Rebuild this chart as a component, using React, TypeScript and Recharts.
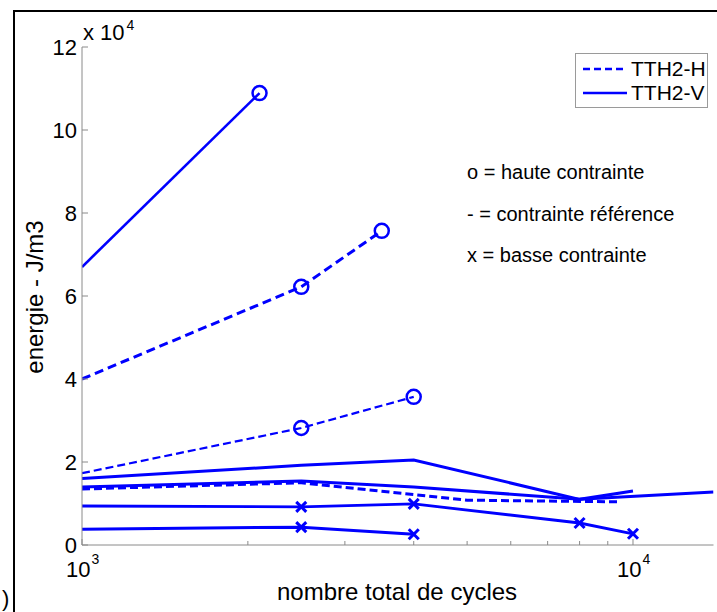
import { Legend, Line, LineChart, XAxis, YAxis } from 'recharts'

// Energy (J/m3) versus total number of cycles, log x axis.
const X_MIN = 1000
const X_MAX = 14000
const X_TICKS = [1000, 2000, 3000, 4000, 5000, 6000, 7000, 8000, 9000, 10000]
const X_MAJOR = [1000, 10000]
const Y_TICKS = [0, 20000, 40000, 60000, 80000, 100000, 120000]

// TTH2-V, solid lines
const V_HAUTE_X = [1000, 2100]
const V_HAUTE_Y = [67000, 108900]
const V_REF1_X = [1000, 2500, 4000, 8000, 10000]
const V_REF1_Y = [16000, 19200, 20500, 11000, 13000]
const V_REF2_X = [1000, 2500, 4000, 8000, 14000]
const V_REF2_Y = [14000, 15400, 14000, 11000, 12800]
const V_BASSE1_X = [1000, 2500, 4000, 8000, 10000]
const V_BASSE1_Y = [9400, 9200, 9900, 5300, 2700]
const V_BASSE2_X = [1000, 2500, 4000]
const V_BASSE2_Y = [3800, 4300, 2600]

// TTH2-H, dashed lines
const H_HAUTE1_X = [1000, 2500, 3500]
const H_HAUTE1_Y = [40000, 62200, 75700]
const H_HAUTE2_X = [1000, 2500, 4000]
const H_HAUTE2_Y = [17300, 28200, 35700]
const H_REF_X = [1000, 2500, 5000, 9500]
const H_REF_Y = [13500, 15000, 10800, 10400]

const LEGEND_ITEMS = [
  { label: 'TTH2-H', dash: '7 4' },
  { label: 'TTH2-V', dash: undefined },
]
const NOTES = ['o = haute contrainte', '- = contrainte référence', 'x = basse contrainte']

const BLUE = '#0000ff'
const AXIS_GRAY = '#8a8a8a'
const FONT = '"Liberation Sans", Arial, sans-serif'

const pts = (xs: number[], ys: number[]) => xs.map((x, i) => ({ x, y: ys[i] }))

type Marker = 'o' | 'x' | 'none'

// Points sitting on the left edge are line continuations, not measurements.
function markerFor(kind: Marker) {
  return (props: any) => {
    const { cx, cy, payload, index } = props
    const key = `m-${index}-${cx}`
    if (kind === 'none' || payload.x <= X_MIN) return <g key={key} />
    if (kind === 'o') {
      return <circle key={key} cx={cx} cy={cy} r={7} fill="none" stroke={BLUE} strokeWidth={2.5} />
    }
    return (
      <g key={key} stroke={BLUE} strokeWidth={3}>
        <line x1={cx - 5} y1={cy - 5} x2={cx + 5} y2={cy + 5} />
        <line x1={cx - 5} y1={cy + 5} x2={cx + 5} y2={cy - 5} />
      </g>
    )
  }
}

function XTick(props: any) {
  const { x, y, payload } = props
  const major = X_MAJOR.includes(payload.value)
  const exp = Math.round(Math.log10(payload.value))
  return (
    <g>
      <line x1={x} y1={y} x2={x} y2={y - (major ? 6 : 4)} stroke={AXIS_GRAY} />
      {major && (
        <text x={x - 16} y={y + 32} fontSize={22} fontFamily={FONT} fill="#000">
          10
          <tspan dx={1} dy={-13} fontSize={14}>
            {exp}
          </tspan>
        </text>
      )}
    </g>
  )
}

function YTick(props: any) {
  const { x, y, payload } = props
  return (
    <g>
      <line x1={x} y1={y} x2={x + 6} y2={y} stroke={AXIS_GRAY} />
      <text x={x - 5} y={y} dy="0.355em" textAnchor="end" fontSize={22} fontFamily={FONT} fill="#000">
        {payload.value / 10000}
      </text>
    </g>
  )
}

function LegendBox() {
  return (
    <div
      style={{
        border: '1px solid #9a9a9a',
        background: '#fff',
        width: 131,
        height: 53,
        fontFamily: FONT,
        fontSize: 21,
        color: '#000',
        boxSizing: 'content-box',
      }}
    >
      {LEGEND_ITEMS.map((item, i) => (
        <div key={item.label} style={{ position: 'relative', height: 24, marginTop: i === 0 ? 3 : 0 }}>
          <svg width={50} height={24} style={{ position: 'absolute', left: 6, top: 0 }}>
            <line x1={1} y1={12} x2={45} y2={12} stroke={BLUE} strokeWidth={2.5} strokeDasharray={item.dash} />
          </svg>
          <span style={{ position: 'absolute', left: 55, top: 0, lineHeight: '24px' }}>{item.label}</span>
        </div>
      ))}
    </div>
  )
}

export default function App() {
  return (
    <div style={{ position: 'absolute', left: 0, top: 0, width: 717, height: 612, background: '#fff' }}>
      <LineChart width={717} height={612} margin={{ top: 47, right: 3.5, bottom: 0, left: 0 }}>
        <XAxis
          dataKey="x"
          type="number"
          scale="log"
          domain={[X_MIN, X_MAX]}
          ticks={X_TICKS}
          allowDataOverflow
          height={67}
          stroke={AXIS_GRAY}
          tickSize={0}
          tickMargin={0}
          tickLine={false}
          tick={<XTick />}
          interval={0}
        />
        <YAxis
          type="number"
          domain={[0, 120000]}
          ticks={Y_TICKS}
          width={82}
          stroke={AXIS_GRAY}
          tickSize={0}
          tickMargin={0}
          tickLine={false}
          tick={<YTick />}
          interval={0}
        />
        <Legend
          layout="horizontal"
          verticalAlign="middle"
          align="center"
          wrapperStyle={{ left: 575, top: 53, width: 'auto' }}
          content={() => <LegendBox />}
        />

        <Line data={pts(V_HAUTE_X, V_HAUTE_Y)} dataKey="y" stroke={BLUE} strokeWidth={2.6} dot={markerFor('o')} activeDot={false} isAnimationActive={false} />
        <Line data={pts(V_REF1_X, V_REF1_Y)} dataKey="y" stroke={BLUE} strokeWidth={3} dot={false} activeDot={false} isAnimationActive={false} />
        <Line data={pts(V_REF2_X, V_REF2_Y)} dataKey="y" stroke={BLUE} strokeWidth={3} dot={false} activeDot={false} isAnimationActive={false} />
        <Line data={pts(V_BASSE1_X, V_BASSE1_Y)} dataKey="y" stroke={BLUE} strokeWidth={2.8} dot={markerFor('x')} activeDot={false} isAnimationActive={false} />
        <Line data={pts(V_BASSE2_X, V_BASSE2_Y)} dataKey="y" stroke={BLUE} strokeWidth={3} dot={markerFor('x')} activeDot={false} isAnimationActive={false} />
        <Line data={pts(H_HAUTE1_X, H_HAUTE1_Y)} dataKey="y" stroke={BLUE} strokeWidth={3} strokeDasharray="9 5" dot={markerFor('o')} activeDot={false} isAnimationActive={false} />
        <Line data={pts(H_HAUTE2_X, H_HAUTE2_Y)} dataKey="y" stroke={BLUE} strokeWidth={2.2} strokeDasharray="8 4" dot={markerFor('o')} activeDot={false} isAnimationActive={false} />
        <Line data={pts(H_REF_X, H_REF_Y)} dataKey="y" stroke={BLUE} strokeWidth={3} strokeDasharray="8 4" dot={false} activeDot={false} isAnimationActive={false} />

        {/* exponent of the y axis */}
        <text x={83} y={40} fontSize={22} fontFamily={FONT} fill="#000">
          x 10
          <tspan dx={2} dy={-10} fontSize={14}>
            4
          </tspan>
        </text>
        {NOTES.map((note, i) => (
          <text key={note} x={467} y={179 + i * 41.5} fontSize={20} fontFamily={FONT} fill="#000">
            {note}
          </text>
        ))}
        <text x={397} y={600} textAnchor="middle" fontSize={24} fontFamily={FONT} fill="#000">
          nombre total de cycles
        </text>
        <text x={43} y={297} textAnchor="middle" transform="rotate(-90 43 297)" fontSize={24} fontFamily={FONT} fill="#000">
          energie - J/m3
        </text>
        {/* only the closing parenthesis of the panel label is inside the crop */}
        <text x={2} y={606} fontSize={22} fontFamily={FONT} fill="#000">
          )
        </text>
      </LineChart>
      {/* figure frame, cut off on the right and bottom */}
      <div
        style={{
          position: 'absolute',
          left: 13,
          top: 10,
          width: 720,
          height: 620,
          borderTop: '2px solid #000',
          borderLeft: '2px solid #000',
          pointerEvents: 'none',
        }}
      />
    </div>
  )
}
